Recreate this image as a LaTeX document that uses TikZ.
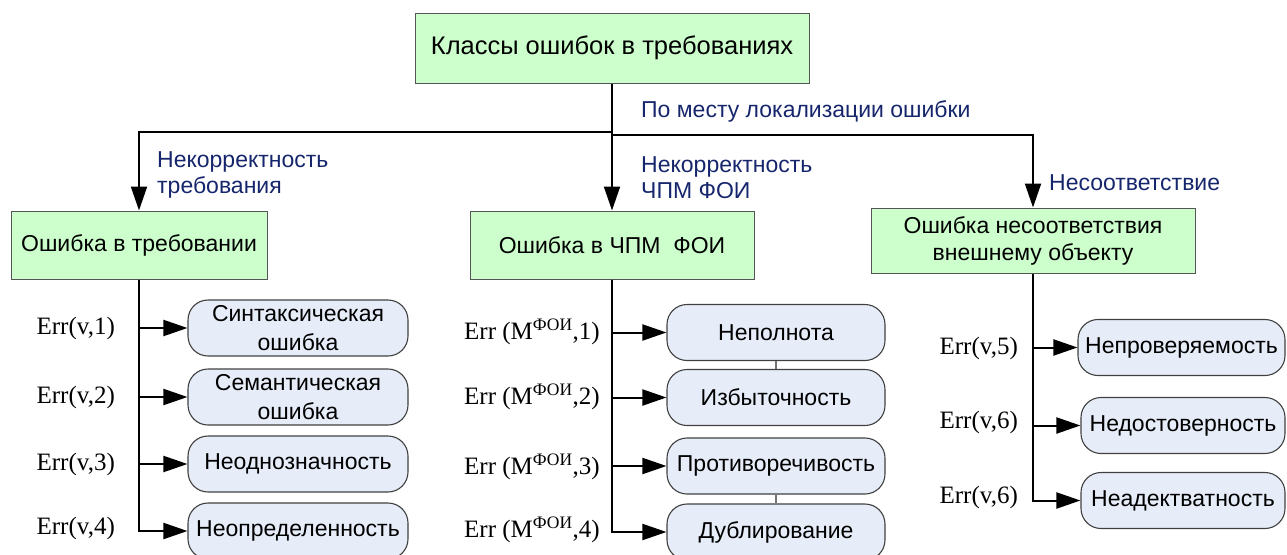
\documentclass[tikz,border=0pt]{standalone}
\usepackage{fontspec}
\setmainfont{Liberation Sans}
\newfontfamily\errfont{Liberation Serif}
\usetikzlibrary{positioning,arrows.meta}

\definecolor{boxgreen}{RGB}{204,255,204}
\definecolor{leafblue}{RGB}{230,236,248}
\definecolor{lblblue}{RGB}{22,38,108}
\definecolor{rimgray}{RGB}{85,85,85}

\begin{document}
\begin{tikzpicture}[
    x=1pt, y=-1pt,
    cls/.style={draw=rimgray, fill=boxgreen, line width=1pt, inner sep=2pt,
                align=center, font=\fontsize{23}{27}\selectfont},
    leaf/.style={draw=black!75, fill=leafblue, line width=1.1pt,
                 rounded corners=20pt, minimum height=56pt, inner sep=2pt,
                 align=center, font=\fontsize{23}{29}\selectfont},
    lbl/.style={anchor=west, align=left, inner sep=0pt, text=lblblue,
                font=\fontsize{23}{26}\selectfont},
    err/.style={anchor=east, inner sep=0pt,
                font=\errfont\fontsize{25}{28}\selectfont},
    op/.style={-{Triangle[length=24pt, width=16pt]}, line width=2pt},
    tie/.style={draw=black!55, line width=1.5pt},
  ]
  \useasboundingbox (0,0) rectangle (1287,554);

  % --- root and the three classes ---
  \node[cls, minimum width=394pt, minimum height=70pt,
        font=\fontsize{25.5}{30}\selectfont] (root) at (612,48)
    {Классы ошибок в требованиях};
  \node[cls, minimum width=256pt, minimum height=68pt] (cls1) at (139,245)
    {Ошибка в требовании};
  \node[cls, minimum width=284pt, minimum height=68pt] (cls2) at (612,245)
    {Ошибка в ЧПМ\ \ ФОИ};
  \node[cls, minimum width=324pt, minimum height=65pt] (cls3) at (1033,240.5)
    {Ошибка несоответствия\\внешнему объекту};

  \coordinate (splitL) at (612,132);
  \coordinate (splitR) at (612,135);
  \draw[op] (root.south) -- (cls2.north);
  \draw[op] (splitL) -| (cls1.north);
  \draw[op] (splitR) -| (cls3.north);

  \node[lbl] (byplace) at (641,111) {По месту локализации ошибки};
  \node[lbl] (lbl1) at (157,175) {Некорректность\\требования};
  \node[lbl] (lbl2) at (641,178) {Некорректность\\ЧПМ ФОИ};
  \node[lbl] (lbl3) at (1049,183) {Несоответствие};

  % --- errors in a requirement (left) ---
  \node[leaf, minimum width=220pt] (l1) at (298,328) {Синтаксическая\\ошибка};
  \node[leaf, minimum width=220pt] (l2) at (298,397) {Семантическая\\ошибка};
  \node[leaf, minimum width=220pt] (l3) at (298,464) {Неоднозначность};
  \node[leaf, minimum width=220pt] (l4) at (298,531) {Неопределенность};

  \foreach \n in {1,2,3}
    \draw[op] (cls1.south |- l\n.west) -- (l\n.west);
  \draw[op] (cls1.south) |- (l4.west);

  \node[err] (e1) at (115,328) {Err(v,1)};
  \node[err] (e2) at (115,397) {Err(v,2)};
  \node[err] (e3) at (115,464) {Err(v,3)};
  \node[err] (e4) at (115,528) {Err(v,4)};

  % --- errors in the model (middle) ---
  \node[leaf, minimum width=218pt] (m1) at (776,332.5) {Неполнота};
  \node[leaf, minimum width=218pt] (m2) at (776,397.5) {Избыточность};
  \node[leaf, minimum width=218pt] (m3) at (776,466) {Противоречивость};
  \node[leaf, minimum width=218pt] (m4) at (776,532) {Дублирование};

  \draw[tie] (m1.south) -- (m2.north);
  \draw[tie] (m3.south) -- (m4.north);

  \foreach \n in {1,2,3}
    \draw[op] (cls2.south |- m\n.west) -- (m\n.west);
  \draw[op] (cls2.south) |- (m4.west);

  \foreach \n/\y in {1/332,2/397,3/467,4/530}
    \node[err] (f\n) at (600,\y) {Err (M\textsuperscript{ФОИ},\n)};

  % --- mismatch with the outer object (right) ---
  \node[leaf, minimum width=207pt] (r1) at (1181.5,347.5) {Непроверяемость};
  \node[leaf, minimum width=204pt] (r2) at (1183,425.5) {Недостоверность};
  \node[leaf, minimum width=204pt] (r3) at (1183,500.5) {Неадектватность};

  \foreach \n in {1,2}
    \draw[op] (cls3.south |- r\n.west) -- (r\n.west);
  \draw[op] (cls3.south) |- (r3.west);

  \node[err] (g1) at (1018,348) {Err(v,5)};
  \node[err] (g2) at (1018,422) {Err(v,6)};
  \node[err] (g3) at (1018,497) {Err(v,6)};
\end{tikzpicture}
\end{document}
